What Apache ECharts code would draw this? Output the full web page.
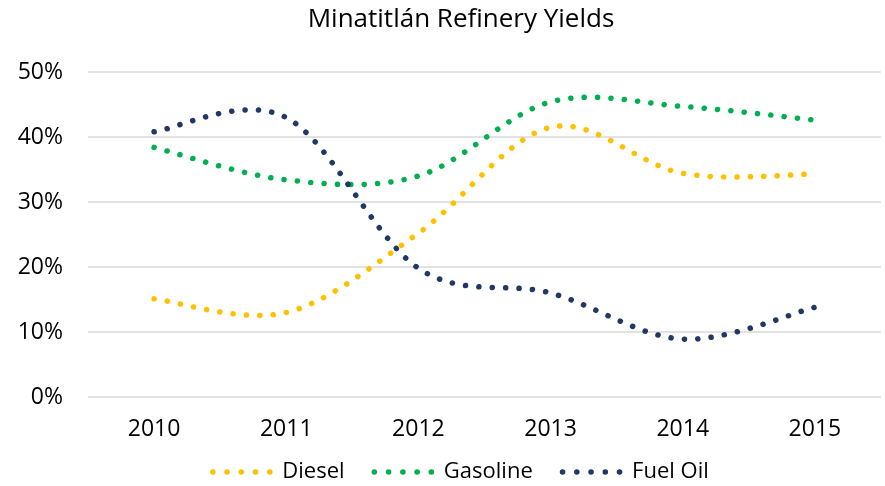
<!DOCTYPE html>
<html>
<head>
<meta charset="utf-8">
<script src="https://cdn.jsdelivr.net/npm/echarts@6/dist/echarts.min.js"></script>
<style>
    html, body { margin: 0; padding: 0; background: #fff; }
    #chart { width: 885px; height: 486px; }
</style>
</head>
<body>
<div id="chart"></div>
<script>
    // 数据
    var years = ['2010', '2011', '2012', '2013', '2014', '2015'];
    var diesel = [15.1, 13.0, 25.2, 41.5, 34.4, 34.3];
    var gasoline = [38.4, 33.4, 34.0, 45.4, 44.7, 42.6];
    var fuelOil = [40.8, 43.0, 19.8, 16.0, 8.9, 13.8];
    var seriesNames = ['Diesel', 'Gasoline', 'Fuel Oil'];
    var colors = ['#FFC000', '#00B050', '#1F3864'];

    var font = '"Open Sans", "Noto Sans", sans-serif';

    // 图例图标: 五个点
    var dotIcon = 'path://';
    for (var i = 0; i < 5; i++) {
        var cx = i * 14.25;
        dotIcon += 'M' + cx + ',2.8a2.8,2.8 0 1,0 5.6,0a2.8,2.8 0 1,0 -5.6,0';
    }

    // 平滑曲线 (类似 Excel 的平滑线), 坐标由 api.coord 换算
    function curveRenderer(values, color) {
        return function (params, api) {
            if (params.dataIndex !== 0) {
                return null;
            }
            var pts = values.map(function (v, k) {
                return api.coord([k, v]);
            });
            var out = [pts[0]];
            for (var k = 0; k < pts.length - 1; k++) {
                var p0 = pts[k - 1] || pts[k];
                var p1 = pts[k];
                var p2 = pts[k + 1];
                var p3 = pts[k + 2] || pts[k + 1];
                var c1 = [p1[0] + (p2[0] - p0[0]) / 6, p1[1] + (p2[1] - p0[1]) / 6];
                var c2 = [p2[0] - (p3[0] - p1[0]) / 6, p2[1] - (p3[1] - p1[1]) / 6];
                for (var s = 1; s <= 30; s++) {
                    var t = s / 30, u = 1 - t;
                    var a = u * u * u, b = 3 * u * u * t, c = 3 * u * t * t, d = t * t * t;
                    out.push([
                        a * p1[0] + b * c1[0] + c * c2[0] + d * p2[0],
                        a * p1[1] + b * c1[1] + c * c2[1] + d * p2[1]
                    ]);
                }
            }
            return {
                type: 'polyline',
                shape: { points: out },
                style: {
                    fill: 'none',
                    stroke: color,
                    lineWidth: 5.5,
                    lineDash: [0.1, 13.3],
                    lineCap: 'round'
                }
            };
        };
    }

    function makeSeries(name, values, color) {
        return {
            name: name,
            type: 'custom',
            coordinateSystem: 'cartesian2d',
            encode: { x: 0, y: 1 },
            data: values.map(function (v, k) { return [k, v]; }),
            itemStyle: { color: color },
            renderItem: curveRenderer(values, color)
        };
    }

    var option = {
        animation: false,
        backgroundColor: '#fff',
        title: {
            text: 'Minatitlán Refinery Yields',
            left: 456,
            textAlign: 'center',
            top: 2,
            textStyle: {
                fontFamily: font,
                fontSize: 26,
                fontWeight: 'normal',
                color: '#000'
            }
        },
        legend: {
            bottom: -2,
            left: 205,
            itemWidth: 72,
            itemHeight: 5.6,
            itemGap: 27,
            textStyle: {
                fontFamily: font,
                fontSize: 22,
                color: '#000'
            },
            data: seriesNames.map(function (n, k) {
                return { name: n, icon: dotIcon, itemStyle: { color: colors[k] } };
            })
        },
        grid: {
            left: 88,
            right: 4,
            top: 72,
            bottom: 89
        },
        xAxis: {
            type: 'category',
            data: years,
            boundaryGap: true,
            axisLine: { show: false },
            axisTick: { show: false },
            axisLabel: {
                fontFamily: font,
                fontSize: 23,
                color: '#000',
                margin: 21
            }
        },
        yAxis: {
            type: 'value',
            min: 0,
            max: 50,
            interval: 10,
            axisLine: { show: false },
            axisTick: { show: false },
            axisLabel: {
                formatter: '{value}%',
                fontFamily: font,
                fontSize: 23,
                color: '#000',
                margin: 25
            },
            splitLine: {
                lineStyle: { color: '#d9d9d9', width: 1.5 }
            }
        },
        series: [
            makeSeries(seriesNames[0], diesel, colors[0]),
            makeSeries(seriesNames[1], gasoline, colors[1]),
            makeSeries(seriesNames[2], fuelOil, colors[2])
        ]
    };

    var myChart = echarts.init(document.getElementById('chart'));
    myChart.setOption(option);
</script>
</body>
</html>
